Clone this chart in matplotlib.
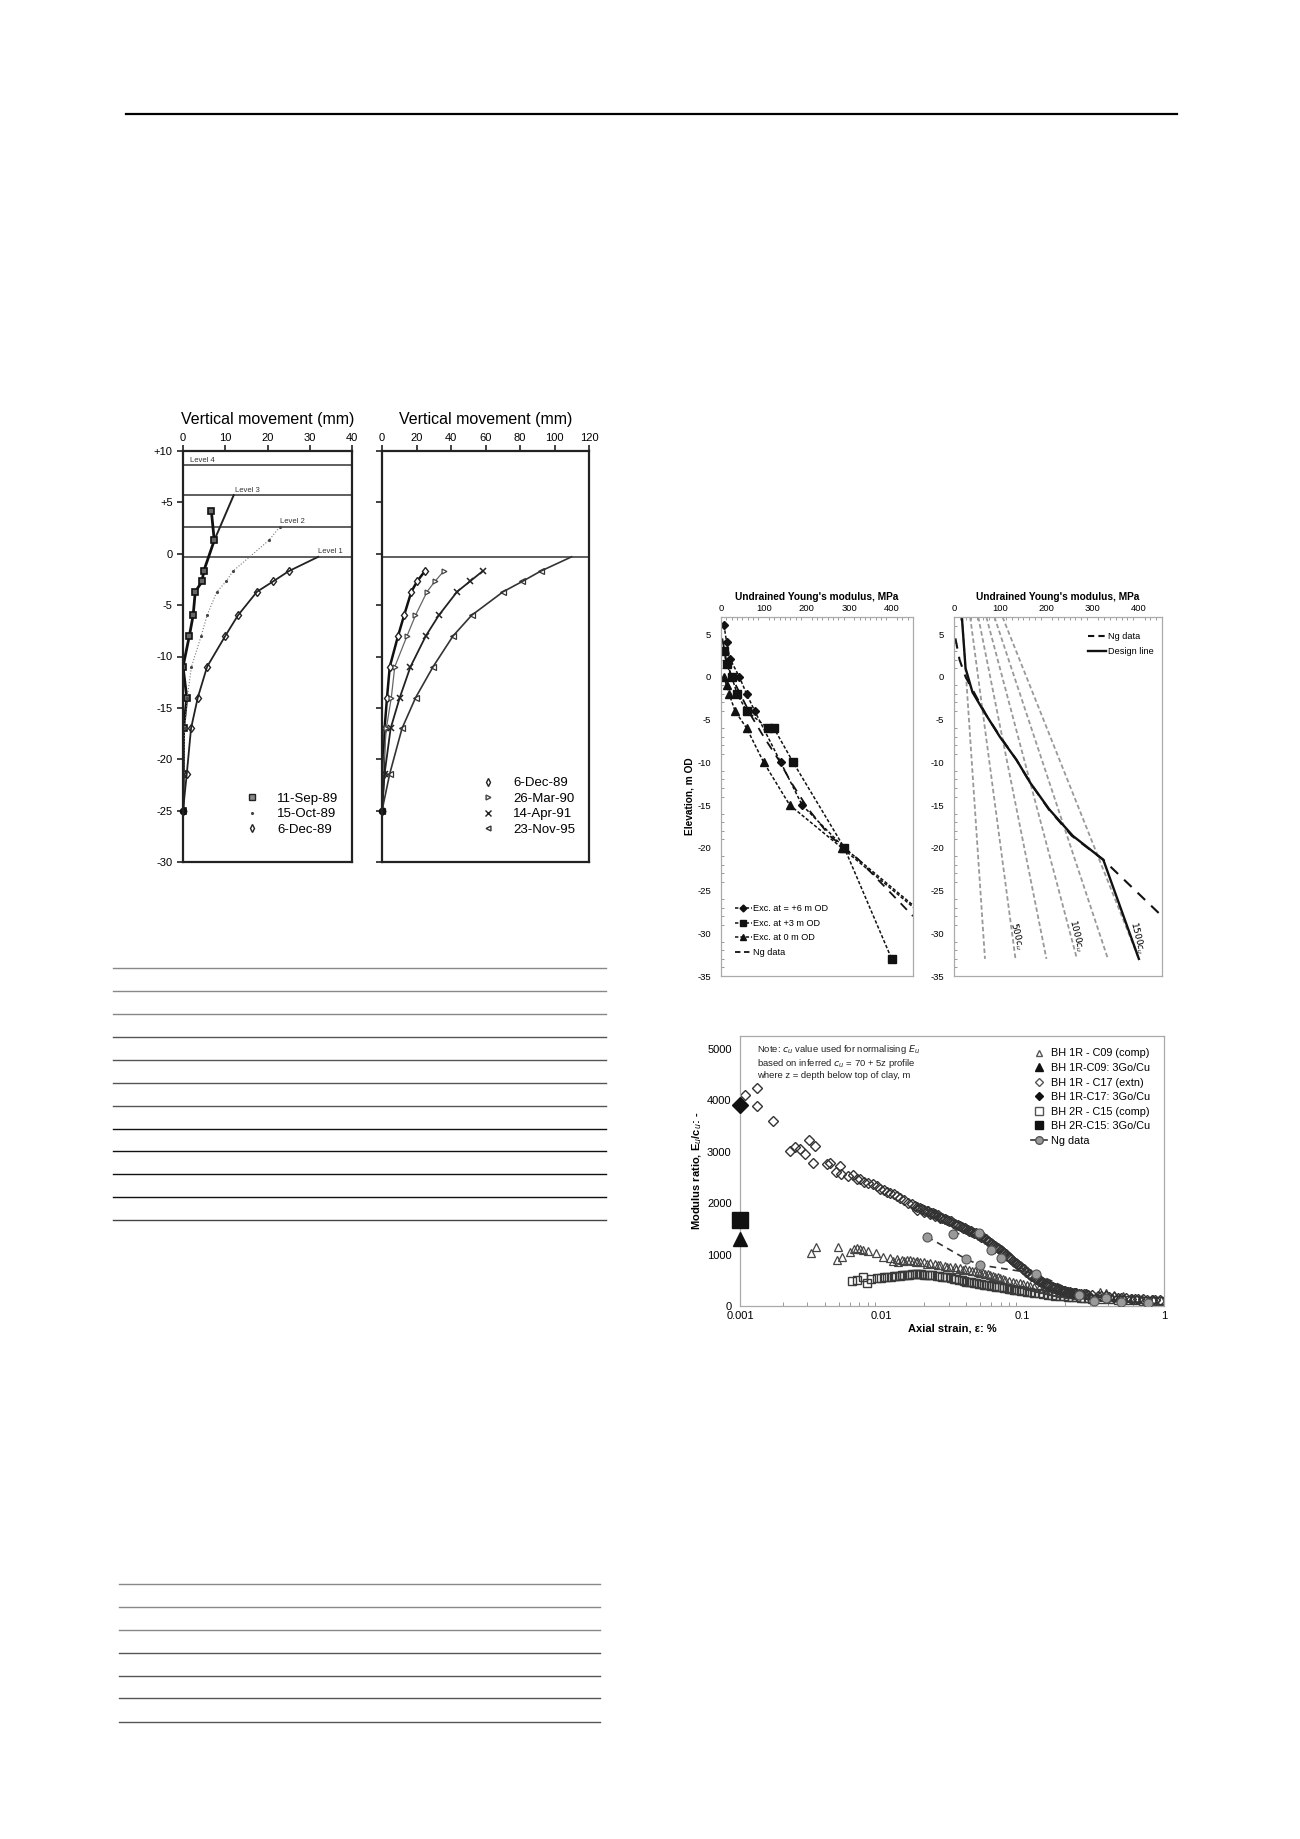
import matplotlib
matplotlib.use("Agg")
import matplotlib.pyplot as plt
from matplotlib.lines import Line2D
from matplotlib.ticker import MultipleLocator, NullFormatter, LogLocator

plt.rcParams['font.family'] = ['Liberation Sans', 'DejaVu Sans']
plt.rcParams['axes.unicode_minus'] = False

W, H = 1300, 1839

# ---------------- left figure: vertical movement profiles ----------------
level_names = ['Level 4', 'Level 3', 'Level 2', 'Level 1']
level_elev = [8.6, 5.7, 2.6, -0.3]
level_label_x = [1.7, 12.4, 23.0, 32.0]

gauge_elev = [-1.7, -2.7, -3.7, -6.0, -8.0, -11.0, -14.0, -17.0, -21.4, -25.0]

sep89_elev = [4.2, 1.3] + gauge_elev
sep89_mm = [6.7, 7.4, 4.9, 4.5, 2.9, 2.4, 1.5, 0.0, 0.9, 0.15, 0.1, 0.0]
sep89_ext_elev = [5.7, 1.3]
sep89_ext_mm = [12.0, 7.4]

oct89_elev = [2.6, 1.3] + gauge_elev
oct89_mm = [22.9, 20.3, 11.8, 10.2, 8.0, 5.7, 4.3, 2.0, 1.0, 0.4, 0.2, 0.0]

dec89_elev = [-0.3] + gauge_elev
dec89_mm = [32.0, 25.0, 21.3, 17.5, 13.0, 10.0, 5.7, 3.5, 1.9, 0.9, 0.0]

dec89b_mm = [24.8, 20.3, 17.0, 12.8, 9.3, 4.5, 2.9, 1.5, 1.0, 0.0]
mar90_mm = [35.8, 30.6, 26.1, 19.4, 14.5, 7.4, 5.4, 2.5, 0.6, 0.0]
apr91_mm = [58.3, 50.9, 43.5, 32.9, 25.4, 16.5, 10.3, 5.0, 1.5, 0.0]
nov95_elev = [-0.3] + gauge_elev
nov95_mm = [109.9, 91.9, 81.3, 70.2, 51.9, 41.2, 29.6, 19.5, 11.6, 4.5, 0.0]

# ---------------- right top: undrained Young's modulus ----------------
exc6_E = [7, 13, 21, 43, 60, 79, 140, 190, 289, 500]
exc6_z = [6.05, 4.1, 2.1, 0.0, -2.0, -4.0, -10.0, -15.0, -20.0, -28.8]
exc3_E = [7, 13, 25, 38, 60, 110, 124, 169, 289, 400]
exc3_z = [3.0, 1.5, 0.0, -2.0, -4.0, -6.0, -6.0, -10.0, -20.0, -33.0]
exc0_E = [7, 13, 19, 33, 60, 100, 161, 283, 500]
exc0_z = [0.0, -1.0, -2.0, -4.0, -6.0, -10.0, -15.0, -20.0, -29.0]
ng_E = [3, 12, 25, 45, 70, 100, 135, 165, 205, 255, 323, 450]
ng_z = [4.5, 2.0, 0.0, -2.0, -4.5, -7.0, -9.7, -12.4, -15.5, -18.6, -21.4, -28.0]
design_E = [17, 25, 40, 63, 99, 135, 165, 206, 257, 323, 400]
design_z = [7.0, 1.0, -1.8, -3.9, -7.0, -9.7, -12.4, -15.5, -18.6, -21.4, -33.0]
cu_factor = [250, 500, 750, 1000, 1250, 1500]
cu_line_top_E = [17.5, 35, 52.5, 70, 87.5, 105]
cu_line_bot_E = [67, 133, 200, 266, 333, 400]
cu_line_top_z = 7.0
cu_line_bot_z = -33.0
cu_labels = ['$500c_u$', '$1000c_u$', '$1500c_u$']
cu_label_E = [136, 265, 397]
cu_label_z = [-30.3, -30.3, -30.5]

# ---------------- right bottom: modulus ratio vs axial strain ----------------
c17_x = [0.00108, 0.00131, 0.00131, 0.00172, 0.00226, 0.00245, 0.00266, 0.0029,
         0.0031, 0.0034, 0.0033, 0.0041, 0.0043, 0.0048, 0.0051, 0.0052, 0.0058,
         0.0063, 0.0067, 0.0071, 0.0075, 0.008, 0.0088, 0.0093, 0.0098, 0.0105,
         0.011, 0.0115, 0.0122, 0.013, 0.0135, 0.0145, 0.0155, 0.0165, 0.0172,
         0.0178, 0.0188, 0.0195, 0.02, 0.021, 0.0215, 0.0225, 0.0233, 0.024,
         0.025, 0.026, 0.027, 0.028, 0.029, 0.031, 0.032, 0.034, 0.036, 0.038,
         0.04, 0.042, 0.044, 0.047, 0.05, 0.052, 0.055, 0.057, 0.06, 0.062,
         0.065, 0.068, 0.071, 0.074, 0.078, 0.081, 0.085, 0.089, 0.093, 0.097,
         0.102, 0.107, 0.112, 0.117, 0.122, 0.128, 0.134, 0.14, 0.148, 0.155,
         0.162, 0.17, 0.177, 0.184, 0.192, 0.2, 0.21, 0.22, 0.23, 0.24, 0.25,
         0.27, 0.29, 0.31, 0.34, 0.36, 0.39, 0.41, 0.44, 0.47, 0.5, 0.54, 0.58,
         0.62, 0.66, 0.71, 0.76, 0.82, 0.87, 0.93,
         0.018, 0.02, 0.022, 0.024, 0.026, 0.028, 0.03, 0.033, 0.035, 0.037,
         0.039, 0.041, 0.043, 0.045, 0.048, 0.051, 0.054, 0.058, 0.061, 0.064,
         0.067, 0.07, 0.073, 0.076, 0.08, 0.083, 0.087, 0.091, 0.095, 0.1,
         0.105, 0.11, 0.115, 0.125, 0.131, 0.137, 0.145, 0.152, 0.16, 0.167,
         0.175, 0.188, 0.196, 0.205, 0.215, 0.225, 0.235, 0.26, 0.28]
c17_y = [4100, 4235, 3890, 3590, 3020, 3100, 3050, 2960,
         3230, 3110, 2790, 2760, 2790, 2610, 2720, 2570, 2520,
         2540, 2470, 2460, 2420, 2400, 2370, 2330, 2270, 2250,
         2220, 2190, 2170, 2130, 2100, 2070, 2000, 1990, 1950,
         1930, 1900, 1880, 1870, 1850, 1840, 1810, 1800, 1790,
         1760, 1740, 1720, 1700, 1670, 1650, 1620, 1580, 1550, 1520,
         1490, 1460, 1440, 1410, 1370, 1340, 1300, 1260, 1230, 1190,
         1150, 1110, 1070, 1030, 980, 930, 880, 840, 790, 750,
         710, 660, 620, 580, 540, 510, 480, 450, 420, 390,
         370, 350, 330, 310, 295, 285, 270, 260, 250, 245, 240,
         230, 220, 210, 200, 195, 185, 180, 170, 165, 160, 150, 145,
         140, 135, 130, 125, 120, 118, 115,
         1860, 1820, 1780, 1750, 1720, 1690, 1650, 1600, 1570, 1540,
         1510, 1480, 1450, 1420, 1380, 1340, 1300, 1240, 1210, 1170,
         1130, 1090, 1050, 1010, 950, 910, 860, 820, 770, 720,
         670, 620, 580, 520, 490, 460, 420, 400, 370, 350,
         330, 300, 290, 280, 265, 255, 250, 235, 225]

c09_x = [0.00316, 0.00345, 0.00491, 0.00483, 0.0053, 0.006, 0.0064, 0.0067,
         0.0071, 0.0074, 0.0081, 0.0092, 0.0103, 0.0115, 0.0129, 0.0132,
         0.014, 0.0151, 0.016, 0.0168, 0.0178, 0.0188, 0.02, 0.022, 0.024,
         0.026, 0.028, 0.0306, 0.033, 0.036, 0.039, 0.042, 0.046, 0.0497,
         0.054, 0.0588, 0.064, 0.0688, 0.075, 0.085, 0.095, 0.107, 0.12,
         0.14, 0.16, 0.184, 0.21, 0.24, 0.28, 0.35, 0.39, 0.44, 0.51, 0.59,
         0.7, 0.84, 0.95,
         0.012, 0.0145, 0.0175, 0.021, 0.025, 0.029, 0.034, 0.038, 0.044,
         0.048, 0.052, 0.057, 0.062, 0.067, 0.072, 0.08, 0.09, 0.1, 0.113,
         0.13, 0.15, 0.17, 0.2, 0.22]
c09_y = [1038, 1154, 1154, 895, 960, 1057, 1100, 1122,
         1110, 1089, 1076, 1025, 947, 927, 908, 862,
         900, 895, 890, 882, 870, 862, 850, 830, 815,
         797, 780, 765, 750, 733, 715, 700, 675, 648,
         625, 603, 570, 538, 510, 473, 440, 408, 370,
         324, 290, 259, 235, 214, 240, 279, 250, 214, 185, 162,
         145, 130, 120,
         880, 870, 850, 820, 790, 760, 725, 705, 680,
         660, 640, 615, 585, 555, 525, 490, 455, 425, 390,
         345, 305, 275, 245, 225]

c15_x = [0.0062, 0.0067, 0.0074, 0.0079, 0.0085, 0.0093, 0.01, 0.0109,
         0.0118, 0.0128, 0.014, 0.0151, 0.0165, 0.0178, 0.019, 0.021, 0.023,
         0.0246, 0.027, 0.029, 0.031, 0.034, 0.037, 0.040, 0.043, 0.047,
         0.051, 0.055, 0.06, 0.065, 0.071, 0.077, 0.083, 0.09, 0.098,
         0.107, 0.12, 0.14, 0.16, 0.184, 0.21, 0.24, 0.27, 0.31, 0.36, 0.41,
         0.47, 0.54, 0.62, 0.71, 0.82, 0.93,
         0.0105, 0.0123, 0.0135, 0.0145, 0.0157, 0.0172, 0.0185, 0.02, 0.022,
         0.0255, 0.028, 0.0325, 0.0355, 0.0385, 0.0415, 0.045, 0.049, 0.053,
         0.0575, 0.0625, 0.068, 0.074, 0.08, 0.087, 0.094, 0.102, 0.113,
         0.13, 0.15, 0.17, 0.195, 0.225, 0.26, 0.29]
c15_y = [493, 506, 571, 441, 520, 538, 550, 558,
         570, 584, 595, 603, 615, 623, 615, 603, 595,
         584, 570, 558, 545, 519, 500, 473, 460, 441,
         425, 408, 392, 376, 360, 344, 328, 311, 295,
         279, 256, 233, 212, 195, 182, 169, 156, 143, 136, 130,
         123, 117, 110, 104, 97, 91,
         560, 575, 590, 598, 605, 618, 620, 610, 600,
         577, 565, 530, 510, 488, 468, 450, 433, 416,
         400, 384, 368, 352, 336, 320, 303, 287, 268,
         245, 222, 203, 188, 175, 162, 150]

go_x = [0.001, 0.001, 0.001]
go_c09 = 1300
go_c17 = 3900
go_c15 = 1680

ng1_x = [0.021, 0.04, 0.05, 0.124, 0.32, 0.5, 0.77]
ng1_y = [1349, 908, 797, 630, 100, 84, 65]
ng2_x = [0.032, 0.049, 0.06, 0.07, 0.25, 0.39]
ng2_y = [1401, 1427, 1089, 927, 214, 149]

note_text = ('Note: $c_u$ value used for normalising $E_u$\n'
             'based on inferred $c_u$ = 70 + 5z profile\n'
             'where z = depth below top of clay, m')


fig = plt.figure(figsize=(W / 100, H / 100), dpi=100)


def px_axes(x0, y0, x1, y1):
    return fig.add_axes([x0 / W, 1 - y1 / H, (x1 - x0) / W, (y1 - y0) / H])


def hline(x0, x1, y, color, lw):
    fig.add_artist(Line2D([x0 / W, x1 / W], [1 - y / H, 1 - y / H],
                          color=color, lw=lw, transform=fig.transFigure))


# page decorations (top rule + empty table rules)
hline(126, 1177, 114, 'black', 1.6)
tab1_y = [968, 991, 1014, 1037, 1060, 1083, 1106, 1129, 1151, 1174, 1197, 1220]
tab1_c = ['#888'] * 3 + ['#555'] * 4 + ['#111'] * 4 + ['#444']
for y, c in zip(tab1_y, tab1_c):
    hline(113, 606, y, c, 1.0)
tab2_y = [1584, 1607, 1630, 1653, 1676, 1698, 1722]
tab2_c = ['#888'] * 3 + ['#555'] * 4
for y, c in zip(tab2_y, tab2_c):
    hline(119, 600, y, c, 1.0)


def movement_axes(ax, xmax, xstep, ylabels):
    ax.set_xlim(0, xmax)
    ax.set_ylim(-30, 10)
    ax.xaxis.tick_top()
    ax.xaxis.set_label_position('top')
    ax.set_xticks(range(0, xmax + 1, xstep))
    ax.set_xlabel('Vertical movement (mm)', fontsize=11.5, labelpad=6)
    ax.set_yticks(range(-30, 11, 5))
    if ylabels:
        ax.set_yticklabels(['-30', '-25', '-20', '-15', '-10', '-5', '0', '+5', '+10'])
    else:
        ax.set_yticklabels([])
    ax.tick_params(axis='both', labelsize=8, length=4, width=1.2, color='#222')
    ax.tick_params(axis='x', pad=2)
    for s in ax.spines.values():
        s.set_linewidth(1.6)
        s.set_color('#222')


# ---- panel 1 ----
ax1 = px_axes(183, 451, 352, 862)
movement_axes(ax1, 40, 10, True)
for name, z, lx in zip(level_names, level_elev, level_label_x):
    ax1.plot([0, 40], [z, z], color='#333', lw=1.1)
    ax1.text(lx, z + 0.15, name, fontsize=5.5, va='bottom', ha='left', color='#333')
ax1.plot(sep89_ext_mm, sep89_ext_elev, color='#222', lw=1.4)
ax1.plot(sep89_mm, sep89_elev, color='#111', lw=2.0, marker='s', ms=4.5,
         mfc='#666', mec='#111', mew=1.2)
ax1.plot(oct89_mm, oct89_elev, color='#777', lw=0.8, ls=':', marker='.', ms=2.5,
         mec='#444', mfc='#444')
ax1.plot(dec89_mm[1:], dec89_elev[1:], ls='none', marker='d', ms=4.5, mfc='white',
         mec='#222', mew=1.0)
ax1.plot(dec89_mm, dec89_elev, color='#222', lw=1.3)
h1 = [Line2D([], [], ls='none', marker='s', ms=4, mfc='#888', mec='#222'),
      Line2D([], [], ls='none', marker='.', ms=2.5, mfc='#444', mec='#444'),
      Line2D([], [], ls='none', marker='d', ms=4, mfc='white', mec='#222')]
ax1.legend(h1, ['11-Sep-89', '15-Oct-89', '6-Dec-89'], loc='lower right',
           bbox_to_anchor=(0.99, 0.035), frameon=False, fontsize=9.5,
           handlelength=1.0, handletextpad=1.4, labelspacing=0.25)

# ---- panel 2 ----
ax2 = px_axes(382, 451, 589, 862)
movement_axes(ax2, 120, 20, False)
ax2.plot([0, 120], [-0.3, -0.3], color='#333', lw=1.1)
ax2.plot(dec89b_mm, gauge_elev, color='#111', lw=1.8, marker='d', ms=4.5,
         mfc='white', mec='#222', mew=1.0)
ax2.plot(mar90_mm, gauge_elev, color='#666', lw=0.9, marker='>', ms=3.5,
         mfc='white', mec='#444', mew=0.9)
ax2.plot(apr91_mm, gauge_elev, color='#222', lw=1.3, marker='x', ms=4.5,
         mec='#222', mew=1.1)
ax2.plot(nov95_mm[1:], nov95_elev[1:], ls='none', marker='<', ms=4.0, mfc='white',
         mec='#333', mew=0.9)
ax2.plot(nov95_mm, nov95_elev, color='#333', lw=1.2)
ax2.plot([0], [-25.0], ls='none', marker='o', ms=4.5, color='#111', clip_on=False)
ax1.plot([0], [-25.0], ls='none', marker='o', ms=4.5, color='#111', clip_on=False)
h2 = [Line2D([], [], ls='none', marker='d', ms=4, mfc='white', mec='#222'),
      Line2D([], [], ls='none', marker='>', ms=3.5, mfc='white', mec='#444'),
      Line2D([], [], ls='none', marker='x', ms=4, mec='#222'),
      Line2D([], [], ls='none', marker='<', ms=3.5, mfc='white', mec='#333')]
ax2.legend(h2, ['6-Dec-89', '26-Mar-90', '14-Apr-91', '23-Nov-95'], loc='lower right',
           bbox_to_anchor=(0.99, 0.035), frameon=False, fontsize=9.5,
           handlelength=1.0, handletextpad=1.4, labelspacing=0.25)


def modulus_axes(ax):
    ax.set_xlim(0, 450)
    ax.set_ylim(-35, 7)
    ax.xaxis.tick_top()
    ax.xaxis.set_label_position('top')
    ax.set_xticks([0, 100, 200, 300, 400])
    ax.set_yticks(range(-35, 6, 5))
    ax.xaxis.set_minor_locator(MultipleLocator(12.5))
    ax.yaxis.set_minor_locator(MultipleLocator(1))
    ax.set_xlabel("Undrained Young's modulus, MPa", fontsize=7.3, fontweight='bold',
                  labelpad=3)
    ax.tick_params(axis='both', which='both', direction='in', labelsize=6.8,
                   color='#999', top=True, left=True, right=False, bottom=False)
    ax.tick_params(which='major', length=0)
    ax.tick_params(which='minor', length=2.5, width=0.7)
    ax.tick_params(axis='x', pad=3)
    ax.tick_params(axis='y', pad=7)
    for s in ax.spines.values():
        s.set_color('#aaa')
        s.set_linewidth(0.9)


# ---- panel A ----
axa = px_axes(721, 617, 913, 976)
modulus_axes(axa)
dash_s = (0, (2.2, 1.3))
axa.plot(exc6_E, exc6_z, color='#111', lw=1.1, ls=dash_s, marker='D', ms=4)
axa.plot(exc3_E, exc3_z, color='#111', lw=1.1, ls=dash_s, marker='s', ms=5.5)
axa.plot(exc0_E, exc0_z, color='#111', lw=1.1, ls=dash_s, marker='^', ms=5.5)
axa.plot(ng_E, ng_z, color='#111', lw=1.3, ls=(0, (5, 4)))
axa.set_ylabel('Elevation, m OD', fontsize=7.3, fontweight='bold', labelpad=2)
ha = [Line2D([], [], color='#111', lw=1.1, ls=dash_s, marker='D', ms=3.5),
      Line2D([], [], color='#111', lw=1.1, ls=dash_s, marker='s', ms=4.5),
      Line2D([], [], color='#111', lw=1.1, ls=dash_s, marker='^', ms=4.5),
      Line2D([], [], color='#111', lw=1.3, ls=(0, (3, 2)))]
axa.legend(ha, ['Exc. at = +6 m OD', 'Exc. at +3 m OD', 'Exc. at 0 m OD', 'Ng data'],
           loc='lower left', bbox_to_anchor=(0.03, 0.03), frameon=False, fontsize=6.6,
           handlelength=1.8, handletextpad=0.2, labelspacing=0.6)

# ---- panel B ----
axb = px_axes(954, 617, 1162, 976)
modulus_axes(axb)
for t, b in zip(cu_line_top_E, cu_line_bot_E):
    axb.plot([t, b], [cu_line_top_z, cu_line_bot_z], color='#999', lw=1.3,
             ls=(0, (2.5, 1.5)))
axb.plot(ng_E, ng_z, color='#111', lw=1.5, ls=(0, (5, 4)))
axb.plot(design_E, design_z, color='#111', lw=1.7)
for lab, x, z in zip(cu_labels, cu_label_E, cu_label_z):
    axb.text(x, z, lab, fontsize=6.5, fontweight='bold', rotation=-76,
             ha='center', va='center', rotation_mode='anchor')
hb = [Line2D([], [], color='#111', lw=1.5, ls=(0, (3, 2))),
      Line2D([], [], color='#111', lw=1.7)]
axb.legend(hb, ['Ng data', 'Design line'], loc='upper right',
           bbox_to_anchor=(1.0, 0.98), frameon=False, fontsize=6.6,
           handlelength=2.0, handletextpad=0.2, labelspacing=0.6)

# ---- modulus ratio vs axial strain ----
axc = px_axes(740, 1036, 1164, 1306)
axc.set_xscale('log')
axc.set_xlim(0.001, 1)
axc.set_ylim(0, 5250)
axc.set_yticks([0, 1000, 2000, 3000, 4000, 5000])
axc.set_xticks([0.001, 0.01, 0.1, 1])
axc.set_xticklabels(['0.001', '0.01', '0.1', '1'])
axc.xaxis.set_minor_locator(LogLocator(base=10, subs=range(2, 10)))
axc.xaxis.set_minor_formatter(NullFormatter())
axc.tick_params(axis='both', which='both', direction='in', labelsize=8, color='#999')
axc.tick_params(which='major', length=0)
axc.tick_params(which='minor', length=3, width=0.7)
axc.tick_params(axis='y', pad=6)
for s in axc.spines.values():
    s.set_color('#aaa')
    s.set_linewidth(0.9)
axc.set_xlabel('Axial strain, ε: %', fontsize=8, fontweight='bold', labelpad=2)
axc.set_ylabel('Modulus ratio, E$_u$/c$_u$: -', fontsize=8, fontweight='bold', labelpad=2)

axc.plot(ng1_x, ng1_y, color='#333', lw=1.2, ls=(0, (4, 3)), zorder=3)
axc.plot(ng2_x, ng2_y, color='#333', lw=1.2, ls=(0, (4, 3)), zorder=3)
axc.plot(ng1_x, ng1_y, ls='none', marker='o', ms=6.5, mfc='#9a9a9a', mec='#555',
         mew=0.8, zorder=4)
axc.plot(ng2_x, ng2_y, ls='none', marker='o', ms=6.5, mfc='#9a9a9a', mec='#555',
         mew=0.8, zorder=4)
axc.plot(c09_x, c09_y, ls='none', marker='^', ms=6, mfc='none', mec='#444', mew=0.9)
axc.plot(c15_x, c15_y, ls='none', marker='s', ms=6, mfc='none', mec='#3a3a3a', mew=1.0)
axc.plot(c17_x, c17_y, ls='none', marker='D', ms=4.8, mfc='none', mec='#333', mew=1.0)
axc.plot(go_x[0], go_c09, ls='none', marker='^', ms=10, color='#111', clip_on=False, zorder=5)
axc.plot(go_x[1], go_c17, ls='none', marker='D', ms=8, color='#111', clip_on=False, zorder=5)
axc.plot(go_x[2], go_c15, ls='none', marker='s', ms=11, color='#111', clip_on=False, zorder=5)
axc.text(0.04, 0.975, note_text, transform=axc.transAxes, fontsize=6.8, va='top',
         ha='left', color='#222', linespacing=1.15)
hc = [Line2D([], [], ls='none', marker='^', ms=5, mfc='none', mec='#555'),
      Line2D([], [], ls='none', marker='^', ms=5.5, color='#111'),
      Line2D([], [], ls='none', marker='D', ms=4, mfc='none', mec='#555'),
      Line2D([], [], ls='none', marker='D', ms=4, color='#111'),
      Line2D([], [], ls='none', marker='s', ms=5.5, mfc='none', mec='#555'),
      Line2D([], [], ls='none', marker='s', ms=6, color='#111'),
      Line2D([], [], color='#333', lw=1.2, marker='o', ms=5.5, mfc='#9a9a9a', mec='#555')]
axc.legend(hc, ['BH 1R - C09 (comp)', 'BH 1R-C09: 3Go/Cu', 'BH 1R - C17 (extn)',
                'BH 1R-C17: 3Go/Cu', 'BH 2R - C15 (comp)', 'BH 2R-C15: 3Go/Cu', 'Ng data'],
           loc='upper right', bbox_to_anchor=(0.99, 0.99), frameon=False, fontsize=7.8,
           handlelength=1.4, handletextpad=0.4, labelspacing=0.42)

fig.savefig('out.png', dpi=100)
